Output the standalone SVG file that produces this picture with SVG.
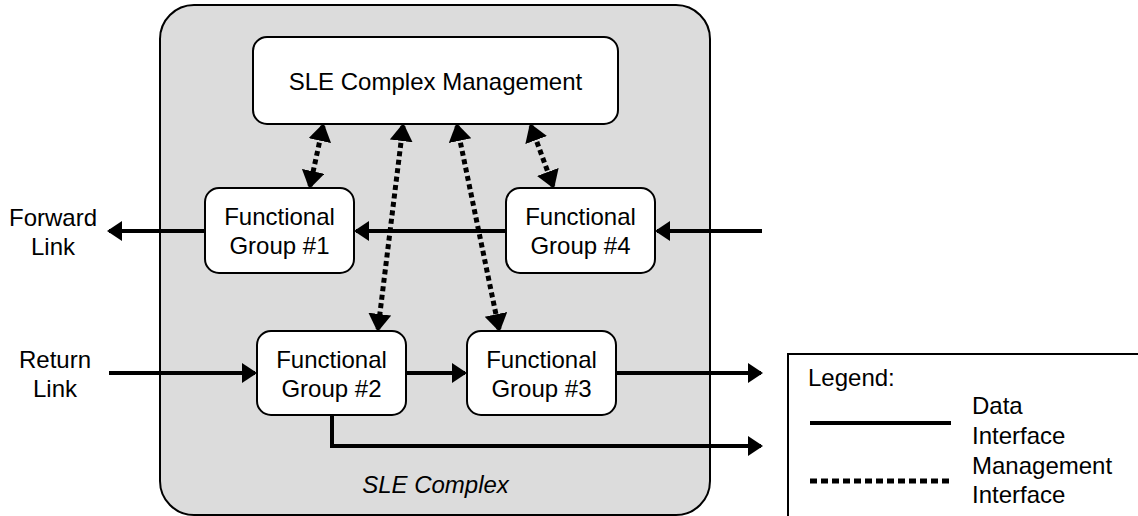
<svg xmlns="http://www.w3.org/2000/svg" width="1138" height="516" viewBox="0 0 1138 516">
<style>
text{font-family:"Liberation Sans",Arial,sans-serif;font-size:24px;fill:#000}
.c{text-anchor:middle}
.box{fill:#fff;stroke:#000;stroke-width:2}
.data{fill:none;stroke:#000;stroke-width:4}
.mgmt{fill:none;stroke:#000;stroke-width:5;stroke-dasharray:5 3.5}
</style>
<defs>
<marker id="ah" markerUnits="userSpaceOnUse" markerWidth="16" markerHeight="22" refX="13" refY="10" orient="auto-start-reverse" viewBox="0 0 16 22">
<path d="M0,0 L15,10 L0,20 Z" fill="#000"/>
</marker>
<marker id="mh" markerUnits="userSpaceOnUse" markerWidth="19" markerHeight="24" refX="15" refY="11.5" orient="auto-start-reverse" viewBox="0 0 19 24">
<path d="M0,0 L18,11.5 L0,23 Z" fill="#000"/>
</marker>
</defs>
<rect x="0" y="0" width="1138" height="516" fill="#fff"/>
<g id="sle-complex">
<rect x="160" y="5" width="550" height="510" rx="34" fill="#dcdcdc" stroke="#000" stroke-width="2"/>
<text x="435.5" y="493" class="c" font-style="italic">SLE Complex</text>
</g>
<g id="mgmt">
<rect class="box" x="253" y="37" width="365" height="87" rx="14"/>
<text x="435.5" y="90" class="c">SLE Complex Management</text>
</g>
<g id="fg1">
<rect class="box" x="205" y="188" width="149" height="85" rx="14"/>
<text x="279.5" y="225" class="c">Functional</text>
<text x="279.5" y="254" class="c">Group #1</text>
</g>
<g id="fg4">
<rect class="box" x="506" y="188" width="149" height="85" rx="14"/>
<text x="580.5" y="225" class="c">Functional</text>
<text x="580.5" y="254" class="c">Group #4</text>
</g>
<g id="fg2">
<rect class="box" x="257" y="331" width="149" height="84" rx="14"/>
<text x="331.5" y="368" class="c">Functional</text>
<text x="331.5" y="397" class="c">Group #2</text>
</g>
<g id="fg3">
<rect class="box" x="467" y="331" width="149" height="84" rx="14"/>
<text x="541.5" y="368" class="c">Functional</text>
<text x="541.5" y="397" class="c">Group #3</text>
</g>
<g id="labels">
<text x="53" y="226" class="c">Forward</text>
<text x="53" y="255" class="c">Link</text>
<text x="55" y="368" class="c">Return</text>
<text x="55" y="397" class="c">Link</text>
</g>
<g id="connectors">
<line class="data" x1="506" y1="231" x2="356" y2="231" marker-end="url(#ah)"/>
<line class="data" x1="762" y1="231" x2="657" y2="231" marker-end="url(#ah)"/>
<line class="data" x1="205" y1="231" x2="109" y2="231" marker-end="url(#ah)"/>
<line class="data" x1="109" y1="373" x2="255" y2="373" marker-end="url(#ah)"/>
<line class="data" x1="406" y1="373" x2="465" y2="373" marker-end="url(#ah)"/>
<line class="data" x1="616" y1="373" x2="761" y2="373" marker-end="url(#ah)"/>
<path class="data" d="M332,415 V446 H761" marker-end="url(#ah)"/>
<line class="mgmt" x1="323" y1="126" x2="310" y2="186" marker-start="url(#mh)" marker-end="url(#mh)"/>
<line class="mgmt" x1="403" y1="126" x2="378" y2="329" marker-start="url(#mh)" marker-end="url(#mh)"/>
<line class="mgmt" x1="457" y1="126" x2="499" y2="329" marker-start="url(#mh)" marker-end="url(#mh)"/>
<line class="mgmt" x1="531" y1="126" x2="553" y2="186" marker-start="url(#mh)" marker-end="url(#mh)"/>
</g>
<g id="legend">
<rect x="788" y="354" width="400" height="200" fill="#fff" stroke="#000" stroke-width="2"/>
<text x="808" y="386">Legend:</text>
<line x1="810" y1="423" x2="951" y2="423" stroke="#000" stroke-width="4"/>
<line x1="810" y1="481" x2="951" y2="481" stroke="#000" stroke-width="5" stroke-dasharray="7 4"/>
<text x="972" y="414">Data</text>
<text x="972" y="444">Interface</text>
<text x="972" y="474">Management</text>
<text x="972" y="503">Interface</text>
</g>
</svg>
